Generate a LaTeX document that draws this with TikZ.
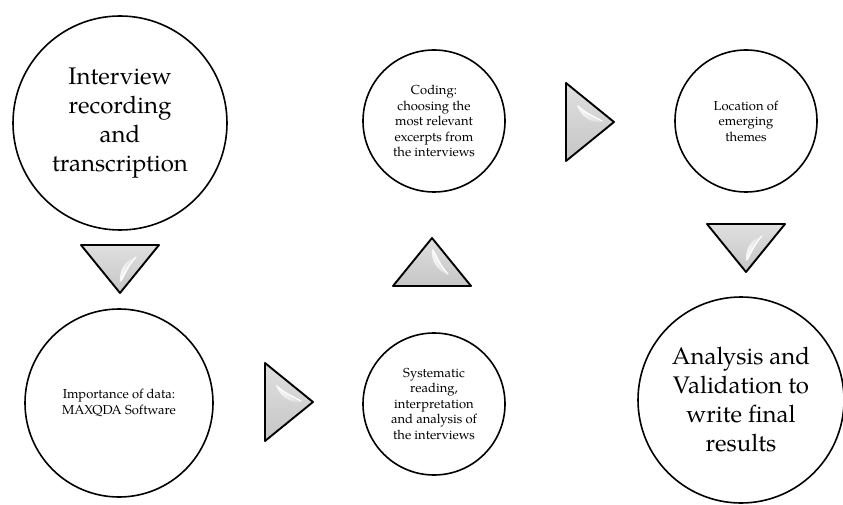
\documentclass[tikz,border=0pt]{standalone}
\usepackage{fontspec}
\setmainfont{TeX Gyre Pagella}
\tikzset{
  stage/.style={circle, draw, line width=1.6pt, align=center, inner sep=0pt},
  big/.style={font=\fontsize{24}{29}\selectfont},
  small/.style={font=\fontsize{13}{15.5}\selectfont},
  tri/.pic={
    \path[draw, line width=1.9pt, line join=round, top color=gray!25, bottom color=gray!45]
      (-39,-24) -- (39,-24) -- (0,24) -- cycle;
    \path[left color=gray!5, right color=gray!30]
      (17,-13) .. controls (5,-9) and (-1,1) .. (0,13)
      .. controls (5,7) and (8,-4) .. (17,-13) -- cycle;
    \draw[white, line width=1.2pt, line cap=round] (16,-12) .. controls (9,-5) and (5,5) .. (1,12);
  }
}
\begin{document}
\begin{tikzpicture}[x=1pt,y=-1pt]
\useasboundingbox (0,0) rectangle (843,505);
% stages
\node[stage, big, minimum size=214pt] (interview) at (120,123)
  {Interview\\recording\\and\\transcription};
\node[stage, small, minimum size=188pt] (importance) at (119,403)
  {Importance of data:\\MAXQDA Software};
\node[stage, small, minimum size=142pt] (systematic) at (434,404)
  {Systematic\\reading,\\interpretation\\and analysis of\\the interviews};
\node[stage, small, minimum size=142pt] (coding) at (434,121)
  {Coding:\\choosing the\\most relevant\\excerpts from\\the interviews};
\node[stage, small, minimum size=142pt] (location) at (746,121)
  {Location of\\emerging\\themes};
\node[stage, big, minimum size=206pt] (analysis) at (741,400)
  {Analysis and\\Validation to\\write final\\results};
% arrows (triangles)
\pic (t1) at (120,269) {tri};
\pic[rotate=90] (t2) at (289,402) {tri};
\pic[yscale=-1] (t3) at (432,262) {tri};
\pic[rotate=90] (t4) at (590,122) {tri};
\pic (t5) at (746,248) {tri};
\end{tikzpicture}
\end{document}
